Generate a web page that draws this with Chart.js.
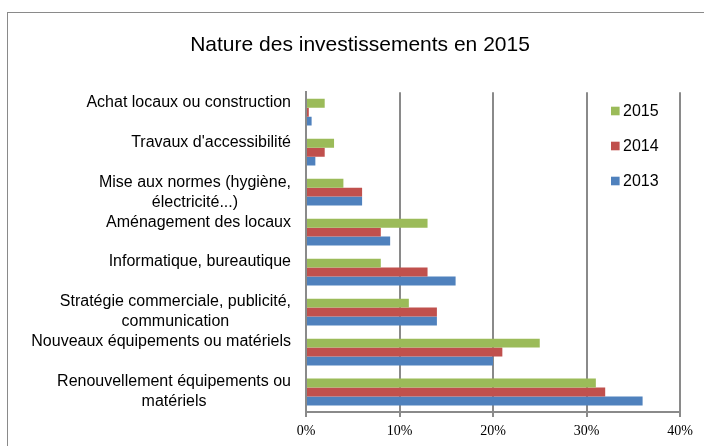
<!DOCTYPE html>
<html lang="fr">
<head>
<meta charset="utf-8">
<title>Nature des investissements en 2015</title>
<script src="https://cdn.jsdelivr.net/npm/chart.js@4"></script>
<style>
  html, body { margin: 0; padding: 0; background: #fff; }
  canvas { display: block; }
</style>
</head>
<body>
<canvas id="graficoInvestissements" width="704" height="446"></canvas>
<script>
const categories = [
  ["Achat locaux ou construction"],
  ["Travaux d'accessibilité"],
  ["Mise aux normes (hygiène,", "électricité...)"],
  ["Aménagement des locaux"],
  ["Informatique, bureautique"],
  ["Stratégie commerciale, publicité,", "communication"],
  ["Nouveaux équipements ou matériels"],
  ["Renouvellement équipements ou", "matériels"],
];
const valeurs2015 = [2, 3, 4, 13, 8, 11, 25, 31];
const valeurs2014 = [0.3, 2, 6, 8, 13, 14, 21, 32];
const valeurs2013 = [0.6, 1, 6, 9, 16, 14, 20, 36];
const ticksX = [0, 10, 20, 30, 40];

const gris = "#8a8a8a";

// cadre gris autour du graphique
const cadre = {
  id: "cadre",
  beforeDraw(chart) {
    const ctx = chart.ctx;
    ctx.save();
    ctx.fillStyle = "#fff";
    ctx.fillRect(0, 0, chart.width, chart.height);
    ctx.strokeStyle = gris;
    ctx.lineWidth = 1;
    ctx.strokeRect(7.5, 12.5, 720, 460);
    ctx.restore();
  },
};

// libellés des catégories (2e ligne centrée sous la 1re, comme Excel)
const libelles = {
  id: "libelles",
  afterDraw(chart) {
    const ctx = chart.ctx;
    const y = chart.scales.y;
    const droite = 291;
    ctx.save();
    ctx.font = "16px 'Liberation Sans', Arial, sans-serif";
    ctx.fillStyle = "#000";
    ctx.textBaseline = "middle";
    categories.forEach((lignes, i) => {
      const yc = y.getPixelForValue(i);
      const w = ctx.measureText(lignes[0]).width;
      ctx.textAlign = "right";
      ctx.fillText(lignes[0], droite, yc - 10);
      if (lignes[1]) {
        ctx.textAlign = "center";
        ctx.fillText(lignes[1], droite - w / 2, yc + 10);
      }
    });
    ctx.restore();
  },
};

// légende dans la zone du graphique
const legende = {
  id: "legende",
  afterDraw(chart) {
    const ctx = chart.ctx;
    ctx.save();
    ctx.font = "16px 'Liberation Sans', Arial, sans-serif";
    ctx.textBaseline = "middle";
    ctx.textAlign = "left";
    chart.data.datasets.forEach((ds, i) => {
      const yc = 111 + i * 35;
      ctx.fillStyle = ds.backgroundColor;
      ctx.fillRect(611, yc - 4.3, 8.6, 8.6);
      ctx.fillStyle = "#000";
      ctx.fillText(ds.label, 623, yc + 1);
    });
    ctx.restore();
  },
};

new Chart(document.getElementById("graficoInvestissements"), {
  type: "bar",
  data: {
    labels: categories,
    datasets: [
      { label: "2015", data: valeurs2015, backgroundColor: "#9BBB59" },
      { label: "2014", data: valeurs2014, backgroundColor: "#C0504D" },
      { label: "2013", data: valeurs2013, backgroundColor: "#4F81BD" },
    ],
  },
  options: {
    indexAxis: "y",
    responsive: false,
    devicePixelRatio: 1,
    animation: false,
    categoryPercentage: 0.67,
    barPercentage: 1,
    layout: { padding: { left: 40, right: 24, top: 0, bottom: 0 } },
    plugins: {
      legend: { display: false },
      tooltip: { enabled: false },
      title: {
        display: true,
        text: "Nature des investissements en 2015",
        color: "#000",
        font: { family: "'Liberation Sans', Arial, sans-serif", size: 21, weight: "normal" },
        padding: { top: 33, bottom: 34 },
      },
    },
    scales: {
      y: {
        grid: { display: false },
        border: { display: true, color: gris, width: 2 },
        ticks: { display: false },
        afterFit(scale) { scale.width = 266; },
      },
      x: {
        min: ticksX[0],
        max: ticksX[ticksX.length - 1],
        afterBuildTicks(scale) { scale.ticks = ticksX.map(v => ({ value: v })); },
        grid: { color: gris, lineWidth: 2, tickLength: 5 },
        border: { display: true, color: gris, width: 2 },
        ticks: {
          color: "#000",
          padding: 6,
          font: { family: "'Liberation Serif', 'Times New Roman', serif", size: 14 },
          callback: (v) => v + "%",
        },
        afterFit(scale) { scale.height = 34; },
      },
    },
  },
  plugins: [cadre, libelles, legende],
});
</script>
</body>
</html>
